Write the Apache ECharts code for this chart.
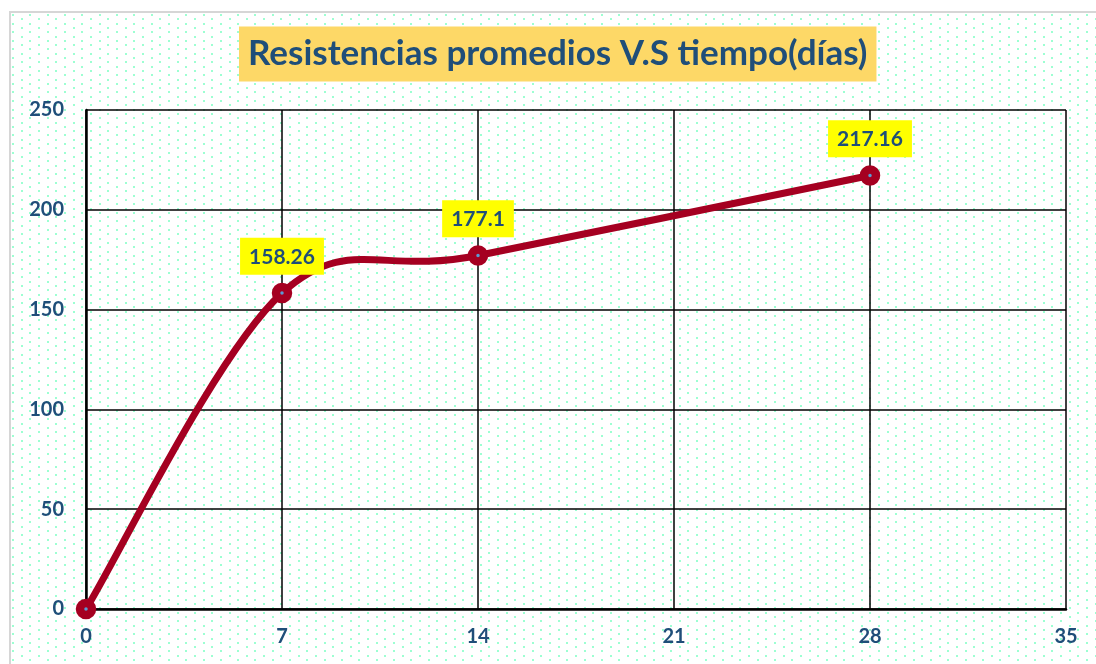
<!DOCTYPE html>
<html>
<head>
<meta charset="utf-8">
<script src="https://cdn.jsdelivr.net/npm/echarts@6/dist/echarts.min.js"></script>
<style>
html,body{margin:0;padding:0;background:#fff;}
#chart{width:1096px;height:664px;}
</style>
</head>
<body>
<div id="chart"></div>
<script>
// ---- data ----
const titleText = 'Resistencias promedios V.S tiempo(días)';
const days = [0, 7, 14, 28];
const strength = [0, 158.26, 177.1, 217.16];
const showLabel = [false, true, true, true];
const xTicks = { min: 0, max: 35, interval: 7 };
const yTicks = { min: 0, max: 250, interval: 50 };

// ---- background (dotted chart area with light frame) ----
const W = 1096, H = 664;
const bg = document.createElement('canvas');
bg.width = W; bg.height = H;
const ctx = bg.getContext('2d');
ctx.fillStyle = '#ffffff';
ctx.fillRect(0, 0, W, H);
ctx.fillStyle = '#9dffd2';
const px = 8.66, py = 4.3, x0 = 13, y0 = 15;
for (let j = -1; y0 + j * py < H; j++) {
  const y = y0 + j * py;
  if (y < 13) continue;
  for (let i = -2; x0 + i * px < W; i++) {
    if (((i + j) % 2 + 2) % 2 !== 0) continue;
    const x = x0 + i * px;
    if (x < 11) continue;
    ctx.fillRect(Math.round(x) - 1, Math.round(y) - 1, 2, 2);
  }
}
ctx.strokeStyle = '#d6d6d6';
ctx.lineWidth = 2;
ctx.beginPath();
ctx.moveTo(10, H + 5); ctx.lineTo(10, 12); ctx.lineTo(W + 5, 12);
ctx.stroke();

const chart = echarts.init(document.getElementById('chart'));
const labelColor = '#1F4E79';
const lineColor = '#A50021';
const font = 'Lato';

const points = days.map((d, i) => [d, strength[i]]);
const seriesData = days.map((d, i) => ({
  value: [d, strength[i]],
  label: { show: showLabel[i] }
}));

// Excel-style smoothed segment (Catmull-Rom as cubic Bezier) between point i and i+1
function renderSegment(params, api) {
  const i = params.dataIndex;
  const n = points.length;
  if (i >= n - 1) return null;
  const P = k => api.coord(points[Math.max(0, Math.min(n - 1, k))]);
  const p0 = P(i - 1), p1 = P(i), p2 = P(i + 1), p3 = P(i + 2);
  return {
    type: 'bezierCurve',
    shape: {
      x1: p1[0], y1: p1[1], x2: p2[0], y2: p2[1],
      cpx1: p1[0] + (p2[0] - p0[0]) / 6, cpy1: p1[1] + (p2[1] - p0[1]) / 6,
      cpx2: p2[0] - (p3[0] - p1[0]) / 6, cpy2: p2[1] - (p3[1] - p1[1]) / 6
    },
    style: { stroke: lineColor, lineWidth: 7, fill: null, lineCap: 'round' },
    silent: true
  };
}

chart.setOption({
  animation: false,
  backgroundColor: '#ffffff',
  graphic: [{
    type: 'image', left: 0, top: 0, z: -100, silent: true,
    style: { image: bg, x: 0, y: 0, width: W, height: H }
  }],
  title: {
    text: titleText,
    left: 239, top: 27,
    padding: [10, 9, 10, 9],
    backgroundColor: '#FDD867',
    textStyle: {
      color: labelColor, fontFamily: font, fontWeight: 'bold',
      fontSize: 35, lineHeight: 34
    }
  },
  grid: { left: 86, right: 30, top: 110, bottom: 55, containLabel: false },
  xAxis: {
    type: 'value', min: xTicks.min, max: xTicks.max, interval: xTicks.interval,
    axisLine: { show: true, onZero: false, lineStyle: { color: '#000', width: 2.5 } },
    axisTick: { show: false },
    splitLine: { show: true, lineStyle: { color: '#000', width: 1.5 } },
    axisLabel: { color: labelColor, fontFamily: font, fontWeight: 'bold', fontSize: 20, margin: 18 }
  },
  yAxis: {
    type: 'value', min: yTicks.min, max: yTicks.max, interval: yTicks.interval,
    axisLine: { show: true, onZero: false, lineStyle: { color: '#000', width: 2.5 } },
    axisTick: { show: false },
    splitLine: { show: true, lineStyle: { color: '#000', width: 1.5 } },
    axisLabel: { color: labelColor, fontFamily: font, fontWeight: 'bold', fontSize: 20, margin: 22 }
  },
  series: [{
    type: 'custom',
    data: points,
    renderItem: renderSegment,
    clip: false,
    z: 4
  }, {
    type: 'line',
    data: seriesData,
    symbol: 'circle',
    symbolSize: 12,
    lineStyle: { opacity: 0, width: 0 },
    itemStyle: { color: '#5B9BD5', borderColor: lineColor, borderWidth: 8.5 },
    label: {
      position: 'top', distance: 8,
      color: labelColor, fontFamily: font, fontWeight: 'bold', fontSize: 21,
      lineHeight: 22,
      backgroundColor: '#FFFF00', padding: [8, 9, 7, 9]
    },
    z: 5
  }]
});
</script>
</body>
</html>
